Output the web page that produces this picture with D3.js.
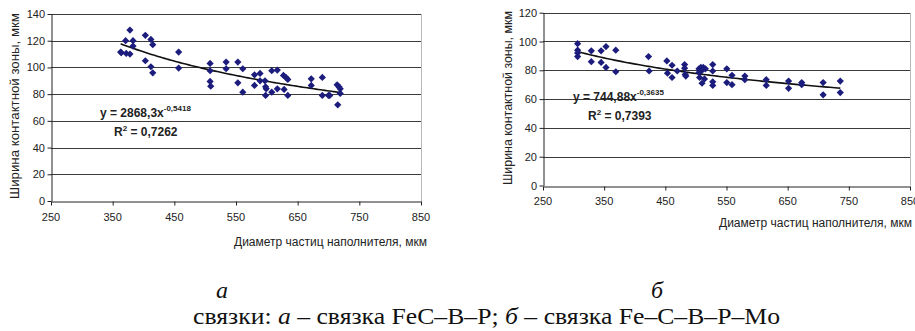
<!DOCTYPE html>
<html>
<head>
<meta charset="utf-8">
<script src="https://cdn.jsdelivr.net/npm/d3@7"></script>
<style>
  html, body { margin: 0; padding: 0; background: #fff; }
  svg { display: block; }
  .tick-label { font-family: "Liberation Sans", Arial, sans-serif; font-size: 11px; fill: #222; }
  .axis-title { font-family: "Liberation Sans", Arial, sans-serif; font-size: 12px; fill: #222; }
  .eq { font-family: "Liberation Sans", Arial, sans-serif; font-size: 12px; font-weight: bold; fill: #222; }
  .caption { font-family: "Liberation Serif", "Times New Roman", serif; fill: #111; }
</style>
</head>
<body>
<svg id="chart" width="915" height="331"></svg>
<script>
"use strict";

// ── Data: panel a (FeC–B–P) ──
const diamA = [363, 364, 371, 372, 378, 378, 383, 383, 403, 403, 412, 412, 415, 415, 457, 457,
  508, 508, 508, 509, 534, 534, 553, 553, 561, 561, 580, 580, 589, 589, 597, 598, 598, 599,
  608, 608, 617, 617, 627, 628, 631, 634, 634, 672, 672, 690, 690, 700, 702, 714, 715, 717, 719, 719];
const widthA = [111.5, 111, 120, 110.5, 128, 110, 120, 116, 124, 105, 121, 100.5, 117, 96, 111.5, 99.5,
  103, 97.5, 89.5, 86, 104, 99, 104, 88.5, 99, 81.5, 94.5, 86.5, 95.5, 90, 90, 85.5, 79, 84,
  97.5, 81.5, 98, 84, 94, 83.5, 92.5, 91, 79, 91.5, 86.5, 92.5, 79, 79, 79, 87, 72, 85.5, 84, 80.5];
const fitA = { a: 2868.3, b: -0.5418 };

// ── Data: panel б (Fe–C–B–P–Mo) ──
const diamB = [306.6, 306.6, 306.6, 306.6, 329, 329, 345, 345, 353, 353, 369, 369, 422.5, 423.5,
  452.5, 453.5, 461, 461, 469.5, 481.5, 481.5, 482.5, 483.5, 505, 505, 506, 508, 510, 510, 512,
  514, 515.5, 527.5, 527.5, 527.5, 527.5, 550.5, 550.5, 559, 559, 580, 580, 615, 615, 651.5,
  651.5, 673, 673, 708, 708, 736, 736];
const widthB = [98.5, 94, 92, 89.5, 93.5, 86, 93.5, 85.5, 96.5, 82, 94, 79, 89.5, 79.5,
  86.5, 78, 83.5, 75, 79.5, 84, 81.5, 77, 76, 81, 78.5, 75, 82, 71, 80, 82,
  74, 81, 84, 79.5, 72, 69.5, 81, 71.5, 76.5, 70, 76, 73.5, 73.5, 69.5, 72.5,
  67.5, 71.5, 70, 71.5, 63, 72.5, 64.5];
const fitB = { a: 744.88, b: -0.3635 };

const xTicks = [250, 350, 450, 550, 650, 750, 850];
const yTicksA = [0, 20, 40, 60, 80, 100, 120, 140];
const yTicksB = [0, 20, 40, 60, 80, 100, 120];

const yTitle = "Ширина контактной зоны,  мкм";
const xTitle = "Диаметр частиц наполнителя, мкм";

const svg = d3.select("#chart");

function drawPanel(p) {
  const x = d3.scaleLinear().domain([250, 850]).range([p.left, p.right]);
  const y = d3.scaleLinear().domain([0, d3.max(p.yTicks)]).range([p.bottom, p.top]);
  const g = svg.append("g");

  // gridlines
  g.selectAll(".grid").data(p.yTicks.filter(v => v > 0)).enter().append("line")
    .attr("x1", p.left).attr("x2", p.right)
    .attr("y1", d => Math.round(y(d)) + 0.5).attr("y2", d => Math.round(y(d)) + 0.5)
    .attr("stroke", "#3a3a3a").attr("stroke-width", 1);

  // right border
  g.append("line")
    .attr("x1", p.right + 0.5).attr("x2", p.right + 0.5)
    .attr("y1", y(d3.max(p.yTicks))).attr("y2", p.bottom)
    .attr("stroke", "#b8b8b8");

  // axes
  const xAxis = g.append("g").attr("transform", `translate(0,${Math.round(p.bottom) + 0.5})`)
    .call(d3.axisBottom(x).tickValues(xTicks).tickSize(4).tickSizeOuter(0).tickFormat(""));
  const yAxis = g.append("g").attr("transform", `translate(${Math.round(p.left) + 0.5},0)`)
    .call(d3.axisLeft(y).tickValues(p.yTicks).tickSize(4).tickSizeOuter(0).tickFormat(""));
  [xAxis, yAxis].forEach(a => a.selectAll("path, line").attr("stroke", "#222"));

  g.selectAll(".xl").data(xTicks).enter().append("text")
    .attr("class", "tick-label")
    .attr("x", d => x(d)).attr("y", p.xLabelY)
    .attr("text-anchor", "middle").text(d => d);

  g.selectAll(".yl").data(p.yTicks).enter().append("text")
    .attr("class", "tick-label")
    .attr("x", p.left - 6).attr("y", d => y(d) + 4)
    .attr("text-anchor", "end").text(d => d);

  // axis titles
  g.append("text").attr("class", "axis-title")
    .attr("x", p.xTitleRight).attr("y", p.xTitleY)
    .attr("text-anchor", "end").text(xTitle);

  g.append("text").attr("class", "axis-title")
    .attr("transform", `translate(${p.yTitleX},${p.yTitleC}) rotate(-90)`)
    .attr("text-anchor", "middle")
    .attr("textLength", p.yTitleLen).attr("lengthAdjust", "spacingAndGlyphs")
    .text(yTitle);

  // trendline
  const xs = d3.extent(p.xs);
  const curve = d3.range(0, 101).map(i => {
    const xv = xs[0] + (xs[1] - xs[0]) * i / 100;
    return [xv, p.fit.a * Math.pow(xv, p.fit.b)];
  });
  g.append("path")
    .datum(curve)
    .attr("fill", "none").attr("stroke", "#111").attr("stroke-width", 1.6)
    .attr("d", d3.line().x(d => x(d[0])).y(d => y(d[1])));

  // markers
  const diamond = d3.symbol().type(d3.symbolSquare).size(26);
  g.selectAll(".pt").data(p.xs.map((v, i) => [v, p.ys[i]])).enter().append("path")
    .attr("d", diamond)
    .attr("transform", d => `translate(${x(d[0])},${y(d[1])}) rotate(45)`)
    .attr("fill", "#1c1c7c");

  // equation
  const eq = g.append("text").attr("class", "eq").attr("x", p.eqX).attr("y", p.eqY);
  eq.append("tspan").text(p.eqText);
  eq.append("tspan").attr("dy", -6).attr("font-size", "8px").text(p.eqExp);
  const r2 = g.append("text").attr("class", "eq").attr("x", p.r2X).attr("y", p.r2Y);
  r2.append("tspan").text("R");
  r2.append("tspan").attr("dy", -5).attr("font-size", "8px").text("2");
  r2.append("tspan").attr("dy", 5).text(" = " + p.r2);
}

drawPanel({
  left: 51, right: 421, top: 14, bottom: 201,
  yTicks: yTicksA, xs: diamA, ys: widthA, fit: fitA,
  xLabelY: 221, xTitleRight: 427, xTitleY: 246,
  yTitleX: 19, yTitleC: 106, yTitleLen: 186,
  eqX: 100, eqY: 117, eqText: "y = 2868,3x", eqExp: "-0,5418",
  r2X: 114, r2Y: 136, r2: "0,7262"
});

drawPanel({
  left: 543, right: 910, top: 12.7, bottom: 185.5,
  yTicks: yTicksB, xs: diamB, ys: widthB, fit: fitB,
  xLabelY: 205, xTitleRight: 912, xTitleY: 227,
  yTitleX: 512, yTitleC: 98, yTitleLen: 174,
  eqX: 573, eqY: 101, eqText: "y = 744,88x", eqExp: "-0,3635",
  r2X: 588, r2Y: 120, r2: "0,7393"
});

// captions
svg.append("text").attr("class", "caption")
  .attr("x", 222).attr("y", 298).attr("font-size", "24px").attr("font-style", "italic")
  .attr("text-anchor", "middle").text("а");
svg.append("text").attr("class", "caption")
  .attr("x", 657).attr("y", 298).attr("font-size", "24px").attr("font-style", "italic")
  .attr("text-anchor", "middle").text("б");

const cap = svg.append("text").attr("class", "caption")
  .attr("x", 193).attr("y", 324).attr("font-size", "23px")
  .attr("textLength", 587).attr("lengthAdjust", "spacingAndGlyphs");
cap.append("tspan").text("связки: ");
cap.append("tspan").attr("font-style", "italic").text("а");
cap.append("tspan").text(" – связка FeC–B–P; ");
cap.append("tspan").attr("font-style", "italic").text("б");
cap.append("tspan").text(" – связка Fe–C–B–P–Mo");
</script>
</body>
</html>
